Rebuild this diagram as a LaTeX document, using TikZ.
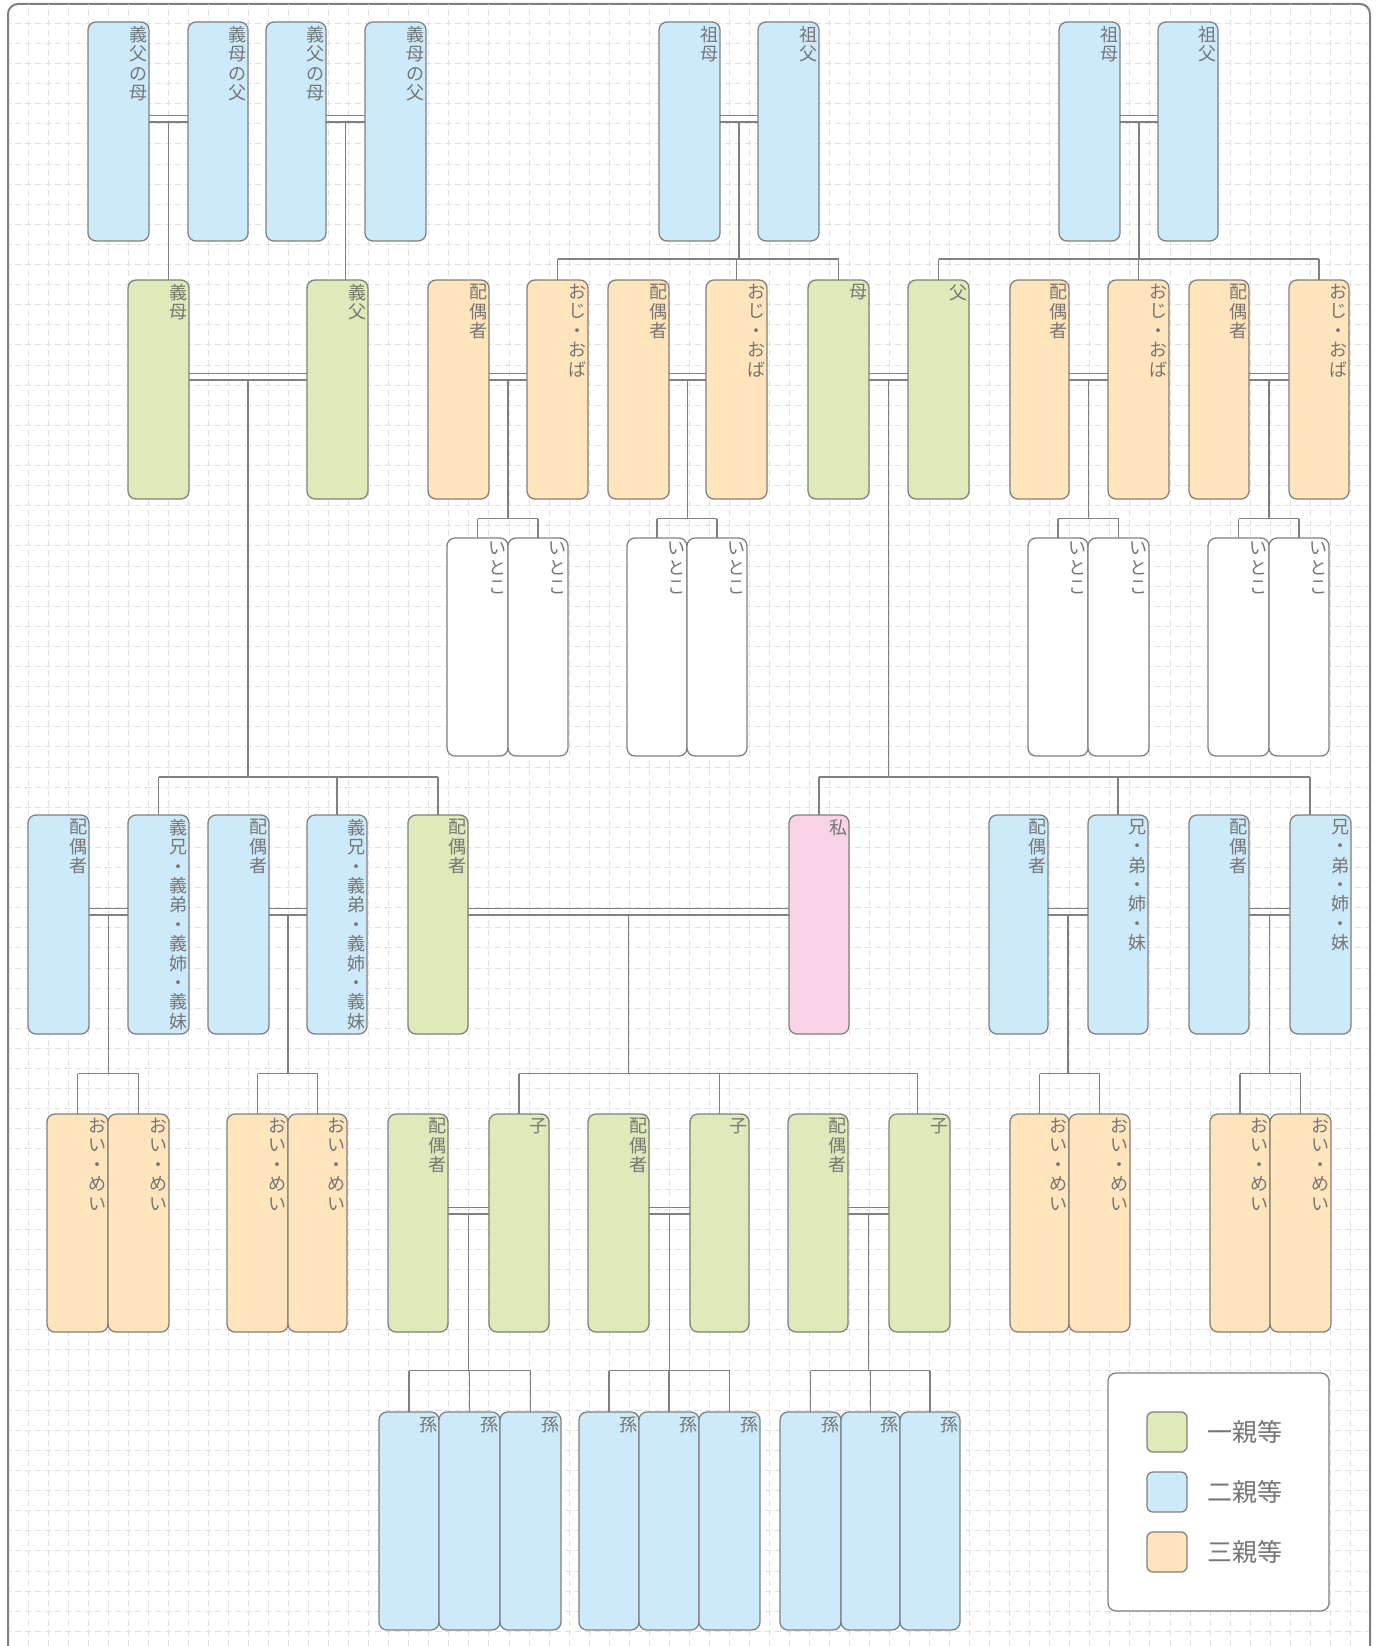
\documentclass[tikz,border=0pt]{standalone}
\usepackage{fontspec}
\setmainfont{Noto Sans CJK JP}
\usetikzlibrary{calc}
\definecolor{lc}{HTML}{808080}
\definecolor{tc}{HTML}{767676}
\definecolor{gC}{HTML}{DEEAB9}
\definecolor{bC}{HTML}{CCEAF9}
\definecolor{oC}{HTML}{FFE4BC}
\definecolor{pC}{HTML}{F8D4E6}
\definecolor{gridc}{HTML}{E0E0E0}
\tikzset{
 pbox/.style={draw=lc, line width=1.3pt, rounded corners=8pt, inner sep=0pt, outer sep=0pt},
 vtext/.style={text=tc, align=center, inner sep=0pt, font=\fontsize{18}{19.4}\selectfont},
 conn/.style={draw=lc, line width=1.4pt},
 gridl/.style={draw=gridc, line width=1pt, dash pattern=on 6pt off 4pt, dash phase=3pt},
 legtext/.style={text=tc, anchor=west, inner sep=0pt, font=\fontsize{25}{25}\selectfont},
}
\newcommand\pbx[7]{%
 \pgfmathsetmacro\pbW{#4-#2}%
 \pgfmathsetmacro\pbH{#5-#3}%
 \pgfmathsetmacro\pbX{(#2+#4)/2}%
 \pgfmathsetmacro\pbY{(#3+#5)/2}%
 \node[pbox, fill=#6, minimum width=\pbW pt, minimum height=\pbH pt] (#1) at (\pbX,\pbY) {};
 \node[vtext, anchor=north east] (#1t) at ($(#1.north east)+(-1.5,4)$) {#7};
}
\newcommand\rA[5]{\pbx{#1}{#2}{22}{#3}{241}{#4}{#5}}
\newcommand\rB[5]{\pbx{#1}{#2}{280}{#3}{499}{#4}{#5}}
\newcommand\rC[5]{\pbx{#1}{#2}{538}{#3}{756}{#4}{#5}}
\newcommand\rD[5]{\pbx{#1}{#2}{815}{#3}{1034}{#4}{#5}}
\newcommand\rE[5]{\pbx{#1}{#2}{1114}{#3}{1332}{#4}{#5}}
\newcommand\rF[5]{\pbx{#1}{#2}{1412}{#3}{1630}{#4}{#5}}
\newcommand\cplmk[3]{%
 \path (#1.north east) ++(0,93.5) coordinate (#3u);
 \path (#1.north east) ++(0,100) coordinate (#3l);
 \draw[conn] (#3u) -- (#3u -| #2.west);
 \draw[conn] (#3l) -- (#3l -| #2.west);
 \coordinate (#3) at ($(#3l)!0.5!(#3l -| #2.west)$);
}
\newcommand\famline[5]{%
 \coordinate (busy) at (0,#2);
 \draw[conn] (#1) -- (#1 |- busy);
 \draw[conn] (#3 |- busy) -- (#4 |- busy);
 \foreach \ch in {#5} {\draw[conn] (\ch |- busy) -- (\ch);}
}
\begin{document}
\begin{tikzpicture}[x=1pt,y=-1pt]
\useasboundingbox (0,0) rectangle (1378,1646);
\clip (0,0) rectangle (1378,1646);
% frame and grid
\path[fill=white] (0,0) rectangle (1378,1646);
\draw[draw=lc, line width=2pt, fill=white, rounded corners=10pt] (8,4) rectangle (1370,1700);
\begin{scope}
\clip (9,5) rectangle (1369,1646);
\foreach \k in {0,...,66} {\pgfmathsetmacro\gx{28.3+20.03*\k}\draw[gridl] (\gx,3.2) -- (\gx,1650);}
\foreach \k in {0,...,80} {\pgfmathsetmacro\gy{23.3+20.1*\k}\draw[gridl] (8.3,\gy) -- (1370,\gy);}
\end{scope}
% row 1
\rA{A1}{88}{149}{bC}{義\\父\\の\\母}
\rA{A2}{188}{248}{bC}{義\\母\\の\\父}
\rA{A3}{266}{326}{bC}{義\\父\\の\\母}
\rA{A4}{365}{426}{bC}{義\\母\\の\\父}
\rA{G1}{659}{720}{bC}{祖\\母}
\rA{G2}{758}{819}{bC}{祖\\父}
\rA{G3}{1059}{1120}{bC}{祖\\母}
\rA{G4}{1158}{1218}{bC}{祖\\父}
% row 2
\rB{B1}{128}{189}{gC}{義\\母}
\rB{B2}{307}{368}{gC}{義\\父}
\rB{B3}{428}{489}{oC}{配\\偶\\者}
\rB{B4}{527}{588}{oC}{お\\じ\\・\\お\\ば}
\rB{B5}{608}{669}{oC}{配\\偶\\者}
\rB{B6}{706}{767}{oC}{お\\じ\\・\\お\\ば}
\rB{B7}{808}{869}{gC}{母}
\rB{B8}{908}{969}{gC}{父}
\rB{B9}{1010}{1069}{oC}{配\\偶\\者}
\rB{B10}{1108}{1169}{oC}{お\\じ\\・\\お\\ば}
\rB{B11}{1189}{1249}{oC}{配\\偶\\者}
\rB{B12}{1289}{1349}{oC}{お\\じ\\・\\お\\ば}
% row 3
\rC{C1}{447}{508}{white}{い\\と\\こ}
\rC{C2}{508}{568}{white}{い\\と\\こ}
\rC{C3}{627}{687}{white}{い\\と\\こ}
\rC{C4}{687}{747}{white}{い\\と\\こ}
\rC{C5}{1028}{1088}{white}{い\\と\\こ}
\rC{C6}{1088}{1149}{white}{い\\と\\こ}
\rC{C7}{1208}{1269}{white}{い\\と\\こ}
\rC{C8}{1269}{1329}{white}{い\\と\\こ}
% row 4
\rD{D1}{28}{89}{bC}{配\\偶\\者}
\rD{D2}{128}{189}{bC}{義\\兄\\・\\義\\弟\\・\\義\\姉\\・\\義\\妹}
\rD{D3}{208}{269}{bC}{配\\偶\\者}
\rD{D4}{307}{367}{bC}{義\\兄\\・\\義\\弟\\・\\義\\姉\\・\\義\\妹}
\rD{D5}{408}{468}{gC}{配\\偶\\者}
\rD{D6}{789}{849}{pC}{私}
\rD{D7}{989}{1048}{bC}{配\\偶\\者}
\rD{D8}{1088}{1148}{bC}{兄\\・\\弟\\・\\姉\\・\\妹}
\rD{D9}{1189}{1249}{bC}{配\\偶\\者}
\rD{D10}{1290}{1351}{bC}{兄\\・\\弟\\・\\姉\\・\\妹}
% row 5
\rE{E1}{47}{108}{oC}{お\\い\\・\\め\\い}
\rE{E2}{108}{169}{oC}{お\\い\\・\\め\\い}
\rE{E3}{227}{288}{oC}{お\\い\\・\\め\\い}
\rE{E4}{288}{347}{oC}{お\\い\\・\\め\\い}
\rE{E5}{388}{448}{gC}{配\\偶\\者}
\rE{E6}{489}{549}{gC}{子}
\rE{E7}{588}{649}{gC}{配\\偶\\者}
\rE{E8}{690}{749}{gC}{子}
\rE{E9}{788}{848}{gC}{配\\偶\\者}
\rE{E10}{889}{950}{gC}{子}
\rE{E11}{1010}{1069}{oC}{お\\い\\・\\め\\い}
\rE{E12}{1069}{1130}{oC}{お\\い\\・\\め\\い}
\rE{E13}{1210}{1270}{oC}{お\\い\\・\\め\\い}
\rE{E14}{1270}{1331}{oC}{お\\い\\・\\め\\い}
% row 6
\rF{F1}{379}{439}{bC}{孫}
\rF{F2}{439}{500}{bC}{孫}
\rF{F3}{500}{561}{bC}{孫}
\rF{F4}{579}{639}{bC}{孫}
\rF{F5}{639}{699}{bC}{孫}
\rF{F6}{699}{760}{bC}{孫}
\rF{F7}{780}{841}{bC}{孫}
\rF{F8}{841}{900}{bC}{孫}
\rF{F9}{900}{960}{bC}{孫}
% couples
\cplmk{A1}{A2}{cA1}
\cplmk{A3}{A4}{cA3}
\cplmk{G1}{G2}{cG1}
\cplmk{G3}{G4}{cG3}
\cplmk{B1}{B2}{cB1}
\cplmk{B3}{B4}{cB3}
\cplmk{B5}{B6}{cB5}
\cplmk{B7}{B8}{cB7}
\cplmk{B9}{B10}{cB9}
\cplmk{B11}{B12}{cB11}
\cplmk{D1}{D2}{cD1}
\cplmk{D3}{D4}{cD3}
\cplmk{D5}{D6}{cD5}
\cplmk{D7}{D8}{cD7}
\cplmk{D9}{D10}{cD9}
\cplmk{E5}{E6}{cE5}
\cplmk{E7}{E8}{cE7}
\cplmk{E9}{E10}{cE9}
% off-centre entry points
\coordinate (D10in) at ($(D10.north west)+(20,0)$);
\coordinate (E10in) at ($(E10.north)+(-2,0)$);
% descent lines
\draw[conn] (cA1) -- (cA1 |- B1.north);
\draw[conn] (cA3) -- (cA3 |- B2.north);
\famline{cG1}{259}{B4.north}{B7.north}{B4.north,B6.north,B7.north}
\famline{cG3}{259}{B8.north}{B12.north}{B8.north,B10.north,B12.north}
\famline{cB1}{777}{D2.north}{D5.north}{D2.north,D4.north,D5.north}
\famline{cB3}{518.5}{C1.north}{C2.north}{C1.north,C2.north}
\famline{cB5}{518.5}{C3.north}{C4.north}{C3.north,C4.north}
\famline{cB7}{777}{D6.north}{D10in}{D6.north,D8.north,D10in}
\famline{cB9}{518.5}{C5.north}{C6.north}{C5.north,C6.north}
\famline{cB11}{518.5}{C7.north}{C8.north}{C7.north,C8.north}
\famline{cD1}{1073.6}{E1.north}{E2.north}{E1.north,E2.north}
\famline{cD3}{1073.6}{E3.north}{E4.north}{E3.north,E4.north}
\famline{cD5}{1073.6}{E6.north}{E10in}{E6.north,E8.north,E10in}
\famline{cD7}{1073.6}{E11.north}{E12.north}{E11.north,E12.north}
\famline{cD9}{1073.6}{E13.north}{E14.north}{E13.north,E14.north}
\famline{cE5}{1370.6}{F1.north}{F3.north}{F1.north,F2.north,F3.north}
\famline{cE7}{1370.6}{F4.north}{F6.north}{F4.north,F5.north,F6.north}
\famline{cE9}{1370.6}{F7.north}{F9.north}{F7.north,F8.north,F9.north}
% legend
\node[pbox, fill=white, minimum width=221pt, minimum height=238pt] (leg) at (1218.5,1492) {};
\node[pbox, rounded corners=6pt, fill=gC, minimum width=40pt, minimum height=40pt] (s1) at (1167,1432) {};
\node[pbox, rounded corners=6pt, fill=bC, minimum width=40pt, minimum height=40pt] (s2) at (1167,1492) {};
\node[pbox, rounded corners=6pt, fill=oC, minimum width=40pt, minimum height=40pt] (s3) at (1167,1552) {};
\node[legtext] (l1) at (1207,1432) {一親等};
\node[legtext] (l2) at (1207,1492) {二親等};
\node[legtext] (l3) at (1207,1552) {三親等};
\end{tikzpicture}
\end{document}
